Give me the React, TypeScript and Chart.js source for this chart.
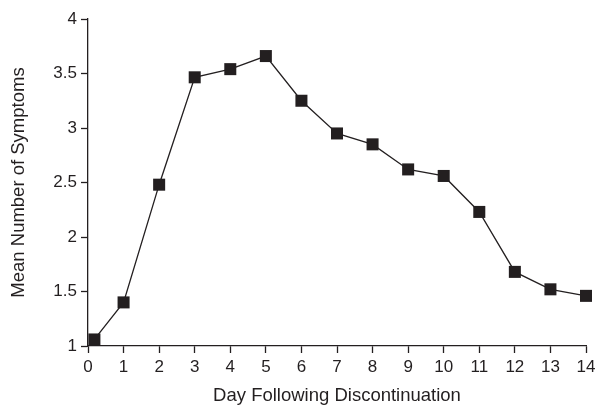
import React, { useEffect, useRef } from "react";
import { Chart, registerables } from "chart.js";

Chart.register(...registerables);

const days: number[] = [0.18, 1, 2, 3, 4, 5, 6, 7, 8, 9, 10, 11, 12, 13, 14];
const meanSymptoms: number[] = [1.06, 1.4, 2.48, 3.465, 3.54, 3.66, 3.25, 2.95, 2.85, 2.62, 2.56, 2.23, 1.68, 1.52, 1.46];
const xTitle = "Day Following Discontinuation";
const yTitle = "Mean Number of Symptoms";

const INK = "#231f20";
const FONT = "'Liberation Sans', Arial, Helvetica, sans-serif";

export default function App() {
  const ref = useRef<HTMLCanvasElement | null>(null);

  useEffect(() => {
    document.body.style.margin = "0";
    const canvas = ref.current;
    if (!canvas) return;

    const chart = new Chart(canvas, {
      type: "line",
      data: {
        datasets: [
          {
            data: days.map((d, i) => ({ x: d, y: meanSymptoms[i] })),
            borderColor: INK,
            borderWidth: 1.3,
            backgroundColor: INK,
            pointStyle: "rect",
            pointRadius: 8.5,
            pointBorderWidth: 0,
            pointBackgroundColor: INK,
            tension: 0,
            clip: false,
          },
        ],
      },
      options: {
        responsive: false,
        animation: false,
        events: [],
        layout: { padding: { top: 19, right: 0, bottom: 0, left: 0 } },
        plugins: { legend: { display: false }, tooltip: { enabled: false } },
        scales: {
          x: {
            type: "linear",
            min: 0,
            max: 14,
            afterFit(scale: any) {
              scale.height = 60;
              scale.paddingLeft = 0;
              scale.paddingRight = 9;
            },
            ticks: {
              stepSize: 1,
              color: INK,
              font: { family: FONT, size: 17 },
              padding: 4,
              maxRotation: 0,
              autoSkip: false,
            },
            grid: {
              drawOnChartArea: false,
              drawTicks: true,
              tickLength: 7,
              tickColor: INK,
              tickWidth: 1.3,
            },
            border: { display: true, color: INK, width: 1.3 },
            title: {
              display: true,
              text: xTitle,
              color: INK,
              font: { family: FONT, size: 18.5, lineHeight: 1 },
              padding: { top: 0, bottom: 1 },
            },
          },
          y: {
            type: "linear",
            min: 1,
            max: 4,
            afterFit(scale: any) {
              scale.width = 88;
            },
            ticks: {
              stepSize: 0.5,
              color: INK,
              font: { family: FONT, size: 17 },
              padding: 4,
              callback: (v: any) => String(v),
            },
            grid: {
              drawOnChartArea: false,
              drawTicks: true,
              tickLength: 7,
              tickColor: INK,
              tickWidth: 1.3,
            },
            border: { display: true, color: INK, width: 1.3 },
            title: {
              display: true,
              text: yTitle,
              color: INK,
              font: { family: FONT, size: 18.5, lineHeight: 1 },
              padding: { top: 10, bottom: 0 },
            },
          },
        },
      },
    } as any);

    return () => chart.destroy();
  }, []);

  return (
    <div style={{ position: "absolute", left: 0, top: 0, width: 595, height: 406, background: "#fff" }}>
      <canvas ref={ref} width={595} height={406} style={{ display: "block" }} />
    </div>
  );
}
